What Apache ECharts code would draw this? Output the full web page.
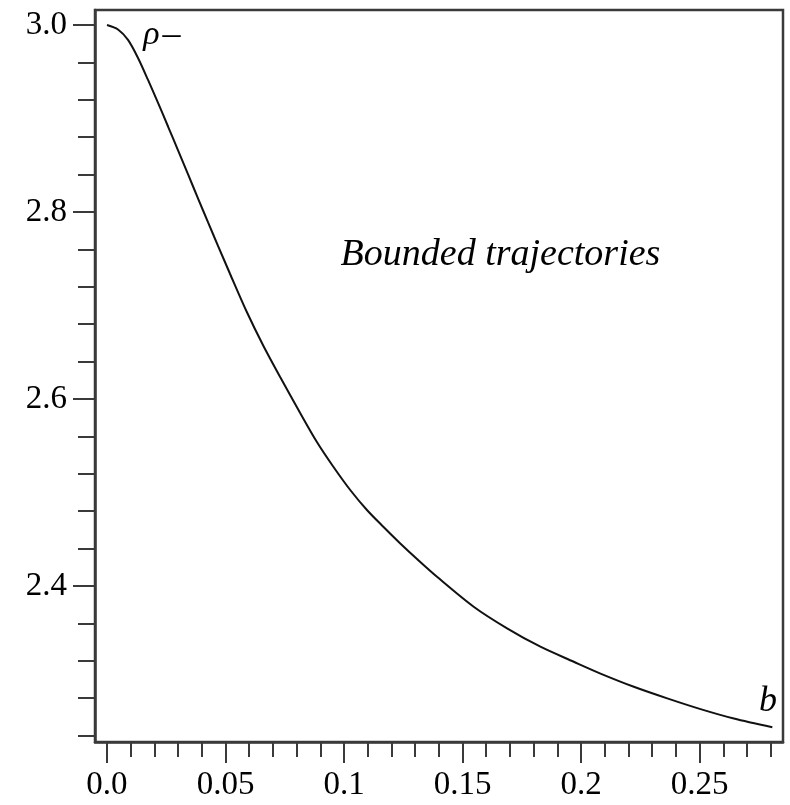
<!DOCTYPE html>
<html>
<head>
<meta charset="utf-8">
<script src="https://cdn.jsdelivr.net/npm/echarts@6/dist/echarts.min.js"></script>
<style>
html,body{margin:0;padding:0;background:#fff;}
#main{width:790px;height:805px;}
</style>
</head>
<body>
<div id="main"></div>
<script>
// Data
var bValues = [0, 0.00465, 0.00887, 0.01309, 0.01731, 0.02154, 0.02576, 0.02998, 0.03421, 0.03843, 0.04265, 0.04688, 0.05194, 0.05900, 0.06601, 0.07306, 0.08150, 0.08856, 0.09557, 0.10262, 0.10967, 0.11668, 0.12373, 0.13079, 0.13923, 0.15469, 0.16879, 0.18285, 0.19692, 0.20820, 0.22226, 0.23636, 0.25042, 0.26448, 0.28070];
var rhoValues = [3.0, 2.9952, 2.9840, 2.9647, 2.9412, 2.9166, 2.8914, 2.8658, 2.8401, 2.8144, 2.7888, 2.7636, 2.7337, 2.6930, 2.6567, 2.6235, 2.5850, 2.5540, 2.5273, 2.5027, 2.4813, 2.4631, 2.4455, 2.4289, 2.4099, 2.3779, 2.3548, 2.3351, 2.3190, 2.3064, 2.2923, 2.2799, 2.2684, 2.2583, 2.2489];

var xMajorTicks = [0, 0.05, 0.1, 0.15, 0.2, 0.25];
var xTickLabels = ['0.0', '0.05', '0.1', '0.15', '0.2', '0.25'];
var xMinorTicks = [0.01, 0.02, 0.03, 0.04, 0.06, 0.07, 0.08, 0.09, 0.11, 0.12, 0.13, 0.14, 0.16, 0.17, 0.18, 0.19, 0.21, 0.22, 0.23, 0.24, 0.26, 0.27, 0.28];
var yMajorTicks = [2.4, 2.6, 2.8, 3.0];
var yTickLabels = ['2.4', '2.6', '2.8', '3.0'];
var yMinorTicks = [2.24, 2.28, 2.32, 2.36, 2.44, 2.48, 2.52, 2.56, 2.64, 2.68, 2.72, 2.76, 2.84, 2.88, 2.92, 2.96];

var annotationTexts = ['ρ', '–', 'Bounded trajectories', 'b'];
var annotationX = [0.0187, 0.0272, 0.166, 0.2789];
var annotationY = [2.9895, 2.989, 2.754, 2.276];
var annotationSizes = [34, 36, 38, 36];
var annotationItalic = [true, false, true, true];

var X_MIN = -0.00506, X_MAX = 0.2852, Y_MIN = 2.2332, Y_MAX = 3.016;
var FONT = 'Liberation Serif';
var AXIS_COLOR = '#3a3a3a';

var chart = echarts.init(document.getElementById('main'), null, {renderer: 'canvas'});

function labelFor(ticks, labels) {
  return function (v) {
    for (var i = 0; i < ticks.length; i++) {
      if (Math.abs(ticks[i] - v) < 1e-6) return labels[i];
    }
    return '';
  };
}

var option = {
  backgroundColor: '#fff',
  animation: false,
  grid: {
    left: 95, top: 10, right: 7, bottom: 63,
    show: true, borderColor: AXIS_COLOR, borderWidth: 2.5, backgroundColor: 'transparent'
  },
  xAxis: [
    {
      type: 'value', min: X_MIN, max: X_MAX, position: 'bottom',
      splitLine: {show: false},
      axisLine: {show: true, onZero: false, lineStyle: {color: AXIS_COLOR, width: 2.5}},
      axisTick: {show: true, customValues: xMajorTicks, length: 21, lineStyle: {color: AXIS_COLOR, width: 2}},
      axisLabel: {show: true, customValues: xMajorTicks, formatter: labelFor(xMajorTicks, xTickLabels),
        margin: 27, color: '#000', fontFamily: FONT, fontSize: 33}
    },
    {
      type: 'value', min: X_MIN, max: X_MAX, position: 'bottom',
      splitLine: {show: false},
      axisLine: {show: false, onZero: false},
      axisTick: {show: true, customValues: xMinorTicks, length: 15, lineStyle: {color: AXIS_COLOR, width: 2}},
      axisLabel: {show: false}
    }
  ],
  yAxis: [
    {
      type: 'value', min: Y_MIN, max: Y_MAX, position: 'left',
      splitLine: {show: false},
      axisLine: {show: true, onZero: false, lineStyle: {color: AXIS_COLOR, width: 2.5}},
      axisTick: {show: true, customValues: yMajorTicks, length: 22, lineStyle: {color: AXIS_COLOR, width: 2}},
      axisLabel: {show: true, customValues: yMajorTicks, formatter: labelFor(yMajorTicks, yTickLabels),
        margin: 28, color: '#000', fontFamily: FONT, fontSize: 33}
    },
    {
      type: 'value', min: Y_MIN, max: Y_MAX, position: 'left',
      splitLine: {show: false},
      axisLine: {show: false, onZero: false},
      axisTick: {show: true, customValues: yMinorTicks, length: 17, lineStyle: {color: AXIS_COLOR, width: 2}},
      axisLabel: {show: false}
    }
  ],
  series: [
    {
      type: 'line',
      xAxisIndex: 0, yAxisIndex: 0,
      data: bValues.map(function (b, i) { return [b, rhoValues[i]]; }),
      smooth: 0.3,
      showSymbol: false,
      lineStyle: {color: '#111', width: 2}
    }
  ]
};
chart.setOption(option);

// Annotations placed through the chart's own coordinate system
var graphics = annotationTexts.map(function (t, i) {
  var p = chart.convertToPixel({xAxisIndex: 0, yAxisIndex: 0}, [annotationX[i], annotationY[i]]);
  return {
    type: 'text', x: p[0], y: p[1], silent: true,
    style: {
      text: t, fill: '#000', align: 'center', verticalAlign: 'middle',
      font: (annotationItalic[i] ? 'italic ' : '') + annotationSizes[i] + 'px "' + FONT + '"'
    }
  };
});
chart.setOption({graphic: graphics});
</script>
</body>
</html>
